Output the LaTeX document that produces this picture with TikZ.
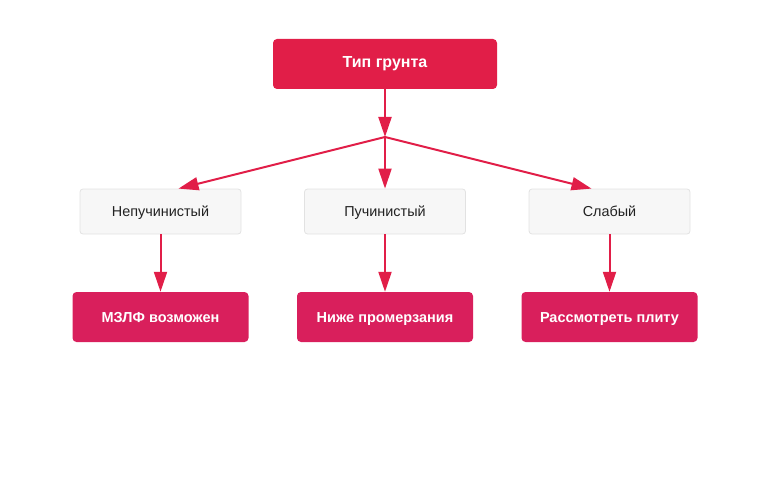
\documentclass[tikz,border=0pt]{standalone}
\usepackage{fontspec}
\setmainfont{Liberation Sans}
\usetikzlibrary{arrows.meta,calc}
\definecolor{topred}{HTML}{E11E48}
\definecolor{botred}{HTML}{D91F5C}
\definecolor{midfill}{HTML}{F7F7F7}
\definecolor{midline}{HTML}{E2E2E2}
\definecolor{txt}{HTML}{222222}
\tikzset{
  topbox/.style={rectangle, rounded corners=4pt, fill=topred, draw=none, minimum width=224pt, minimum height=50pt, text=white, text height=0.72em, text depth=0pt, font=\fontsize{16}{19}\selectfont\bfseries},
  midbox/.style={rectangle, rounded corners=3pt, fill=midfill, draw=midline, line width=0.8pt, minimum width=161pt, minimum height=45pt, text=txt, text height=1em, text depth=0pt, font=\fontsize{14.4}{17}\selectfont},
  botbox/.style={rectangle, rounded corners=4pt, fill=botred, draw=none, minimum width=176pt, minimum height=50pt, text=white, text height=1em, text depth=0pt, font=\fontsize{14.5}{17}\selectfont\bfseries},
  arr/.style={draw=topred, line width=2pt, -{Triangle[length=20pt,width=13pt]}}
}
\begin{document}
\begin{tikzpicture}[x=1pt,y=-1pt]
\useasboundingbox (0,0) rectangle (770,497);
\node[topbox] (t) at (385,64) {Тип грунта};
\node[midbox] (m1) at (160.5,211.5) {Непучинистый};
\node[midbox] (m2) at (385,211.5) {Пучинистый};
\node[midbox] (m3) at (609.5,211.5) {Слабый};
\node[botbox] (b1) at (160.5,317) {МЗЛФ возможен};
\node[botbox] (b2) at (385,317) {Ниже промерзания};
\node[botbox] (b3) at (609.5,317) {Рассмотреть плиту};
\coordinate (j) at (385,137);
\coordinate (e1) at ($(m1.north)+(18,0)$);
\coordinate (e3) at ($(m3.north)+(-18,0)$);
\draw[arr] (t.south) -- (j);
\draw[arr] (j) -- (e1);
\draw[arr] (j) -- (m2.north);
\draw[arr] (j) -- (e3);
\draw[arr] (m1.south) -- (b1.north);
\draw[arr] (m2.south) -- (b2.north);
\draw[arr] (m3.south) -- (b3.north);
\end{tikzpicture}
\end{document}
